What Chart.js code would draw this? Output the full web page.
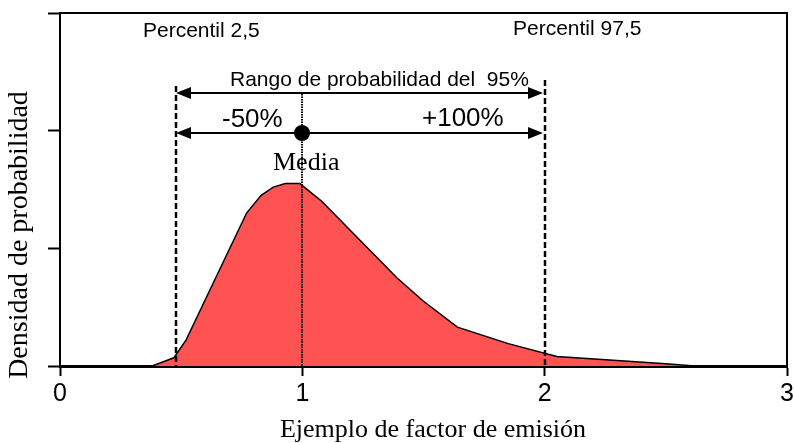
<!DOCTYPE html>
<html>
<head>
<meta charset="utf-8">
<script src="https://cdn.jsdelivr.net/npm/chart.js@4"></script>
<style>
  html, body { margin: 0; padding: 0; background: #fff; }
  #wrap { width: 794px; height: 443px; }
</style>
</head>
<body>
<div id="wrap"><canvas id="c" width="794" height="443"></canvas></div>
<script>
// ---- data ----
const emissionFactor = [0, 0.38, 0.47, 0.52, 0.77, 0.83, 0.88, 0.93, 0.99, 1.08, 1.39, 1.50, 1.64, 1.85, 2.05, 2.50, 2.62, 3.0];
const density        = [0, 0,    0.07, 0.22, 1.30, 1.45, 1.52, 1.55, 1.55, 1.40, 0.75, 0.55, 0.33, 0.19, 0.08, 0.02, 0,    0];
const xTicks = [0, 1, 2, 3];
const percentiles = [0.48, 2.0];          // percentil 2,5 and 97,5
const meanValue = [1.0];                  // media
const rangeArrowLevels = [2.32, 1.98];    // density level of the two range arrows
const guideTops = [2.38, 2.43, 2.31];     // top of left dashed, right dashed, mean dotted
const labels = {
  p025: 'Percentil 2,5',
  p975: 'Percentil 97,5',
  range: 'Rango de probabilidad del  95%',
  minus: '-50%',
  plus: '+100%',
  mean: 'Media',
  xTitle: 'Ejemplo de factor de emisión',
  yTitle: 'Densidad de probabilidad'
};

const SANS = '"Liberation Sans", Arial, sans-serif';
const SERIF = '"Liberation Serif", "Times New Roman", serif';

const points = emissionFactor.map((x, i) => ({ x: x, y: density[i] }));

function arrowHead(ctx, x, y, dir) {
  const len = 15, half = 6;
  ctx.beginPath();
  ctx.moveTo(x, y);
  ctx.lineTo(x - dir * len, y - half);
  ctx.lineTo(x - dir * len, y + half);
  ctx.closePath();
  ctx.fill();
}

const annotations = {
  id: 'annotations',
  afterDatasetsDraw(chart) {
    const ctx = chart.ctx;
    const xs = chart.scales.x, ys = chart.scales.y;
    const a = chart.chartArea;
    const R = v => Math.round(v);
    ctx.save();
    ctx.strokeStyle = '#000';
    ctx.fillStyle = '#000';

    // frame top & right
    ctx.lineWidth = 2;
    ctx.setLineDash([]);
    ctx.beginPath();
    ctx.moveTo(a.left, a.top);
    ctx.lineTo(a.right, a.top);
    ctx.lineTo(a.right, a.bottom);
    ctx.stroke();

    const xl = R(xs.getPixelForValue(percentiles[0]));
    const xr = R(xs.getPixelForValue(percentiles[1]));
    const xm = R(xs.getPixelForValue(meanValue[0]));
    const y0 = ys.getPixelForValue(0);

    // dashed percentile lines
    ctx.lineWidth = 2.5;
    ctx.setLineDash([6, 3]);
    ctx.beginPath();
    ctx.moveTo(xl, R(ys.getPixelForValue(guideTops[0])));
    ctx.lineTo(xl, y0);
    ctx.moveTo(xr, R(ys.getPixelForValue(guideTops[1])));
    ctx.lineTo(xr, y0);
    ctx.stroke();

    // dotted mean line
    ctx.lineWidth = 2;
    ctx.setLineDash([1.5, 1]);
    ctx.beginPath();
    ctx.moveTo(xm, R(ys.getPixelForValue(guideTops[2])));
    ctx.lineTo(xm, y0);
    ctx.stroke();

    // arrows
    ctx.setLineDash([]);
    ctx.lineWidth = 2;
    rangeArrowLevels.forEach(v => {
      const y = R(ys.getPixelForValue(v));
      ctx.beginPath();
      ctx.moveTo(xl + 10, y);
      ctx.lineTo(xr - 10, y);
      ctx.stroke();
      arrowHead(ctx, xl, y, -1);
      arrowHead(ctx, xr - 2, y, 1);
    });

    // mean dot
    ctx.beginPath();
    ctx.arc(xm, R(ys.getPixelForValue(rangeArrowLevels[1])), 8, 0, Math.PI * 2);
    ctx.fill();

    // texts
    ctx.textBaseline = 'alphabetic';
    ctx.textAlign = 'left';
    ctx.font = '21px ' + SANS;
    ctx.fillText(labels.p025, 143, 37);
    ctx.fillText(labels.p975, 513, 35);
    ctx.fillText(labels.range, 230, 86);
    ctx.font = '26px ' + SANS;
    ctx.fillText(labels.minus, 222, 127);
    ctx.fillText(labels.plus, 422, 126);
    ctx.font = '26px ' + SERIF;
    ctx.fillText(labels.mean, 273, 170);

    ctx.textAlign = 'center';
    ctx.fillText(labels.xTitle, 433, 437);
    ctx.save();
    ctx.translate(27, 235);
    ctx.rotate(-Math.PI / 2);
    ctx.font = '28px ' + SERIF;
    ctx.fillText(labels.yTitle, 0, 0);
    ctx.restore();

    ctx.restore();
  }
};

new Chart(document.getElementById('c'), {
  type: 'line',
  data: {
    datasets: [{
      data: points,
      fill: 'origin',
      backgroundColor: '#FF5353',
      borderColor: '#000',
      borderWidth: 1.5,
      pointRadius: 0,
      tension: 0
    }]
  },
  options: {
    responsive: false,
    animation: false,
    devicePixelRatio: 1,
    layout: { padding: { left: 0, top: 13, right: 7, bottom: 0 } },
    plugins: { legend: { display: false }, tooltip: { enabled: false } },
    scales: {
      x: {
        type: 'linear',
        min: 0, max: 3,
        afterBuildTicks: s => { s.ticks = xTicks.map(v => ({ value: v })); },
        afterFit: s => { s.height = 77; s.paddingLeft = 0; s.paddingRight = 0; },
        border: { display: true, color: '#000', width: 3 },
        grid: { drawOnChartArea: false, drawTicks: true, tickLength: 10, tickColor: '#000', tickWidth: 2 },
        ticks: { color: '#000', font: { family: SANS, size: 25 }, padding: 3, maxRotation: 0 }
      },
      y: {
        type: 'linear',
        min: 0, max: 3,
        ticks: { display: false, stepSize: 1 },
        afterFit: s => { s.width = 60; s.paddingTop = 0; s.paddingBottom = 0; },
        border: { display: true, color: '#000', width: 2 },
        grid: { drawOnChartArea: false, drawTicks: true, tickLength: 12, tickColor: '#000', tickWidth: 2 }
      }
    }
  },
  plugins: [annotations]
});
</script>
</body>
</html>
